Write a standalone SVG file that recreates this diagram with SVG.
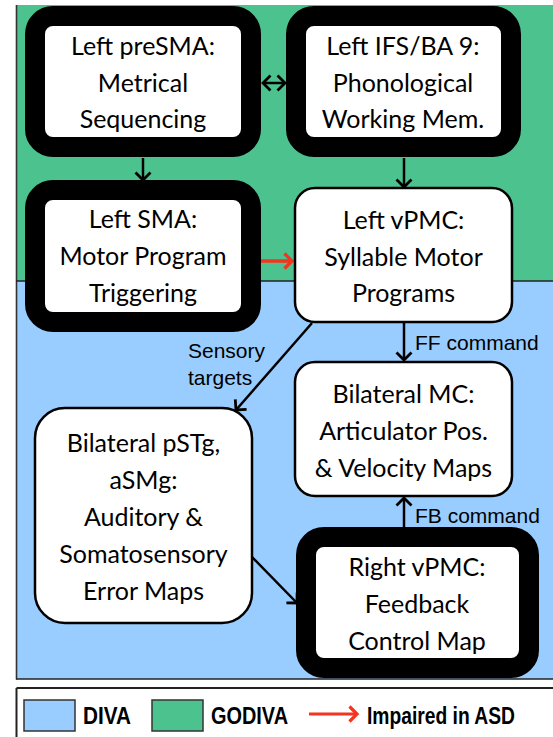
<svg xmlns="http://www.w3.org/2000/svg" width="553" height="737" viewBox="0 0 553 737">
<defs>
<style>
.node-text{font-family:Lato,"Open Sans",sans-serif;font-size:25px;fill:#000;text-anchor:middle}
.thick{fill:#fff;stroke:#000;stroke-width:20}
.thin{fill:#fff;stroke:#000;stroke-width:2.5}
.conn{stroke:#000;stroke-width:2.5;fill:none}
.lbl{font-family:"Liberation Sans",Arial,sans-serif;font-size:21px;fill:#000}
.leg{font-family:"Liberation Sans",Arial,sans-serif;font-size:23px;font-weight:bold;fill:#000}
</style>
<marker id="ah" viewBox="-9 -9 11 18" refX="0" refY="0" markerWidth="11" markerHeight="18" markerUnits="userSpaceOnUse" orient="auto-start-reverse">
<path d="M-7.5,-7.5 L0,0 L-7.5,7.5" fill="none" stroke="#000" stroke-width="2.8"/>
</marker>
<marker id="ahr" viewBox="-9 -9 11 18" refX="0" refY="0" markerWidth="11" markerHeight="18" markerUnits="userSpaceOnUse" orient="auto">
<path d="M-7.5,-7.5 L0,0 L-7.5,7.5" fill="none" stroke="#F5331F" stroke-width="3.2"/>
</marker>
</defs>

<g id="regions">
<rect x="16" y="5" width="540" height="276" fill="#4CC38F"/>
<rect x="16" y="281" width="540" height="398" fill="#99CCFF"/>
<line x1="16.5" y1="5" x2="16.5" y2="679.5" stroke="#333" stroke-width="1.6"/>
<line x1="16" y1="281" x2="553" y2="281" stroke="#222" stroke-width="1.6"/>
<line x1="16" y1="679" x2="553" y2="679" stroke="#222" stroke-width="1.6"/>
</g>

<g id="connectors">
<line class="conn" x1="263" y1="83" x2="285" y2="83" marker-start="url(#ah)" marker-end="url(#ah)"/>
<line class="conn" x1="143" y1="158" x2="143" y2="180" marker-end="url(#ah)"/>
<line class="conn" x1="404" y1="158" x2="404" y2="187" marker-end="url(#ah)"/>
<line x1="251" y1="261" x2="292" y2="261" stroke="#F5331F" stroke-width="3.5" marker-end="url(#ahr)"/>
<line class="conn" x1="312" y1="323" x2="236" y2="410" marker-end="url(#ah)"/>
<line class="conn" x1="404" y1="323" x2="404" y2="360" marker-end="url(#ah)"/>
<line class="conn" x1="252" y1="557" x2="297" y2="603" marker-end="url(#ah)"/>
<line class="conn" x1="404" y1="527" x2="404" y2="498" marker-end="url(#ah)"/>
<text class="lbl" x="188" y="358">Sensory</text>
<text class="lbl" x="188" y="385">targets</text>
<text class="lbl" x="415" y="350">FF command</text>
<text class="lbl" x="415" y="523">FB command</text>
</g>

<g id="left-presma">
<rect class="thick" x="35" y="16" width="216" height="131" rx="18"/>
<text class="node-text" x="143" y="55">Left preSMA:</text>
<text class="node-text" x="143" y="92">Metrical</text>
<text class="node-text" x="143" y="128">Sequencing</text>
</g>

<g id="left-ifs">
<rect class="thick" x="296" y="16" width="215" height="131" rx="18"/>
<text class="node-text" x="403" y="55">Left IFS/BA 9:</text>
<text class="node-text" x="403" y="92">Phonological</text>
<text class="node-text" x="403" y="128">Working Mem.</text>
</g>

<g id="left-sma">
<rect class="thick" x="35" y="190" width="216" height="132" rx="18"/>
<text class="node-text" x="143" y="228">Left SMA:</text>
<text class="node-text" x="143" y="265">Motor Program</text>
<text class="node-text" x="143" y="302">Triggering</text>
</g>

<g id="left-vpmc">
<rect class="thin" x="295" y="188" width="217" height="134" rx="20"/>
<text class="node-text" x="403.5" y="229">Left vPMC:</text>
<text class="node-text" x="403.5" y="266">Syllable Motor</text>
<text class="node-text" x="403.5" y="302">Programs</text>
</g>

<g id="bilateral-mc">
<rect class="thin" x="295" y="362" width="217" height="134" rx="20"/>
<text class="node-text" x="403.5" y="403">Bilateral MC:</text>
<text class="node-text" x="403.5" y="440">Articulator Pos.</text>
<text class="node-text" x="403.5" y="477">&amp; Velocity Maps</text>
</g>

<g id="bilateral-pstg">
<rect class="thin" x="35" y="408" width="217" height="215" rx="30"/>
<text class="node-text" x="143.5" y="452">Bilateral pSTg,</text>
<text class="node-text" x="143.5" y="489">aSMg:</text>
<text class="node-text" x="143.5" y="526">Auditory &amp;</text>
<text class="node-text" x="143.5" y="563">Somatosensory</text>
<text class="node-text" x="143.5" y="600">Error Maps</text>
</g>

<g id="right-vpmc">
<rect class="thick" x="306" y="537" width="223" height="131" rx="18"/>
<text class="node-text" x="417" y="576">Right vPMC:</text>
<text class="node-text" x="417" y="613">Feedback</text>
<text class="node-text" x="417" y="650">Control Map</text>
</g>

<g id="legend">
<line x1="16.5" y1="688" x2="553" y2="688" stroke="#222" stroke-width="2"/>
<line x1="16.5" y1="688" x2="16.5" y2="737" stroke="#222" stroke-width="2"/>
<rect x="24" y="700" width="51" height="31" fill="#99CCFF" stroke="#333" stroke-width="1.5"/>
<text class="leg" x="83" y="724" textLength="48" lengthAdjust="spacingAndGlyphs">DIVA</text>
<rect x="152" y="700" width="51" height="31" fill="#4CC38F" stroke="#333" stroke-width="1.5"/>
<text class="leg" x="211" y="724" textLength="77" lengthAdjust="spacingAndGlyphs">GODIVA</text>
<line x1="309" y1="714" x2="357" y2="714" stroke="#F5331F" stroke-width="3" marker-end="url(#ahr)"/>
<text class="leg" x="367" y="724" textLength="148" lengthAdjust="spacingAndGlyphs">Impaired in ASD</text>
</g>
</svg>
